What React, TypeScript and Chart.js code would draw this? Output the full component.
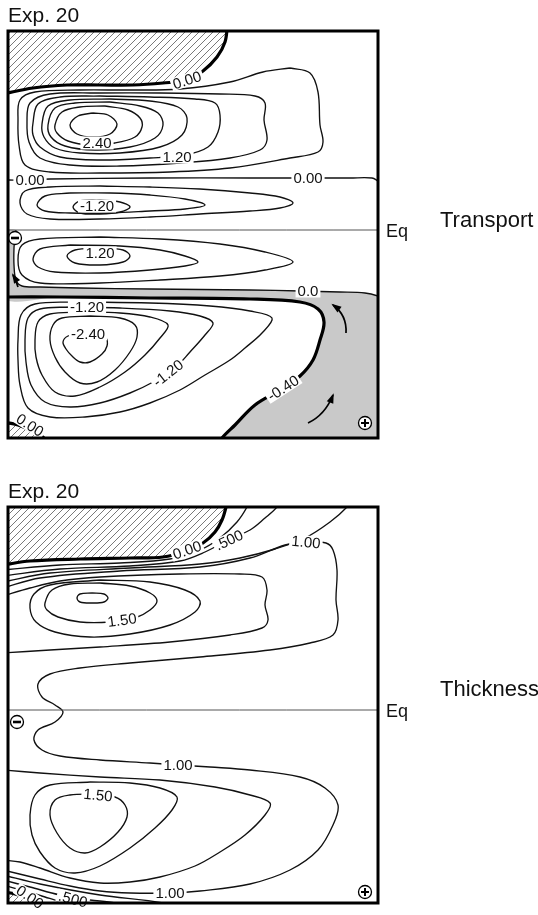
import React, { useEffect, useRef } from 'react';
import { Chart, registerables } from 'chart.js';

Chart.register(...registerables);

type P = [number, number];
type Lbl = [string, number, number, number];

// ---------- Panel 1: Transport (x = longitude 0..74, y = latitude) ----------
const T_ZERO_N: P[] = [[-1,13.6],[5,14.2],[11.8,14.5],[18.4,14.5],[25,14.5],[31,14.7],[35.8,15],[39,15.9],[41.8,17.3],[43.4,18.8],[43.9,20.5]];
const T_G04: P[] = [[2,11],[2.4,13],[5.4,13.8],[14.4,14],[24.4,14],[34.4,14.1],[44.4,14.8],[51,15.8],[56.4,16.2],[60.4,15.7],[62,13.8],[62.4,10.5],[63,8.8],[62,7.8],[56.4,7.2],[44.4,6.2],[32.4,5.8],[18.4,5.7],[8.4,5.8],[3.4,6.5],[2.2,8.5]];
const T_G08: P[] = [[3.8,10.8],[4.4,12.7],[8.4,13.6],[18.4,13.7],[30.4,13.7],[42.4,13.6],[49.4,13.4],[51.4,12.7],[51.2,11],[51.8,9],[50.4,8],[44.4,7.2],[34.4,6.7],[22.4,6.4],[12.4,6.5],[6.4,7.2],[4.2,8.8]];
const T_G12: P[] = [[5,10.7],[6,12.6],[10.4,13.3],[18.4,13.4],[28.4,13.3],[37.4,13.1],[41.4,12.7],[42.4,11.5],[42,9.8],[40,8.3],[35.4,7.5],[28.4,7.2],[18.4,7],[10.4,7.3],[6.4,8.3],[5,9.5]];
const T_G16: P[] = [[6.8,10.6],[8,12.4],[12.4,13],[20.4,13.1],[28.4,12.9],[34,12.3],[35.8,11.2],[34.8,9.5],[30.4,8.3],[22.4,7.7],[14.4,7.7],[9.4,8.2],[7.2,9.3]];
const T_G20: P[] = [[8,10.5],[9.4,12.2],[13.4,12.7],[20.4,12.8],[26.4,12.4],[30,11.7],[31,10.5],[29.4,9.2],[24.4,8.3],[17.4,8],[11.4,8.4],[8.6,9.3]];
const T_G24: P[] = [[9.4,10.5],[10.8,11.8],[14.4,12.3],[19.4,12.4],[24,12],[26.4,11.2],[26.8,10.3],[25.4,9.3],[21.4,8.7],[16.4,8.5],[12,8.9],[9.8,9.7]];
const T_G28: P[] = [[12.4,10.5],[14,11.4],[17,11.7],[20,11.5],[21.8,10.6],[20.4,9.6],[17,9.3],[13.8,9.6]];
const T_ZERO_MID: P[] = [[-1,5],[2.4,5],[8.4,5.1],[28.4,5.2],[48.4,5.2],[68.4,5.2],[72.8,5.2],[74,4.9],[75,4.6]];
const T_N04: P[] = [[2.4,2.7],[3.4,3.9],[8.4,4.3],[18.4,4.4],[28.4,4.3],[38.4,4.1],[48.4,3.7],[54.4,3.3],[57,2.7],[54.4,2.2],[48.4,1.9],[38.4,1.6],[28.4,1.3],[18.4,1.1],[8.4,1.1],[3.8,1.6]];
const T_N08: P[] = [[5.8,2.5],[7.4,3.4],[12.4,3.7],[20.4,3.7],[28.4,3.5],[35.4,3.1],[39.4,2.5],[35.4,2.1],[28.4,1.9],[20.4,1.7],[12.4,1.7],[7.4,1.9]];
const T_N12: P[] = [[13,2.3],[14.4,2.9],[18.4,3],[22.4,2.8],[24.4,2.3],[22.4,1.8],[18.4,1.6],[14.4,1.7]];
const T_S04: P[] = [[2,-3],[2.8,-1.5],[6.4,-0.9],[18.4,-0.7],[30.4,-0.9],[42.4,-1.4],[51.4,-2.2],[57,-3.2],[51.4,-4],[42.4,-4.6],[30.4,-5],[18.4,-5.3],[6.4,-5.3],[2.8,-4.5]];
const T_S08: P[] = [[5,-2.9],[6.4,-1.9],[12.4,-1.5],[22.4,-1.6],[30.4,-2],[35.4,-2.6],[38,-3.2],[35.4,-3.6],[28.4,-4],[18.4,-4.3],[9.4,-4.2],[6,-3.7]];
const T_S12: P[] = [[11.8,-2.6],[13.4,-2],[18.4,-1.8],[23,-2],[24.4,-2.6],[23,-3.2],[18.4,-3.5],[13.4,-3.3]];
const T_ZERO_S: P[] = [[75,-6.9],[74,-6.6],[71.4,-6.3],[66.4,-6.2],[58.4,-6.1],[48.4,-6],[28.4,-5.9],[14.4,-5.8],[6.4,-5.7],[2.8,-5.6],[1.6,-5],[1.2,-3.5],[1.2,-1.8],[1.4,-0.6],[1.6,0]];
const T_NEG040: P[] = [[-1,-6.7],[10.4,-6.7],[28.4,-6.8],[48.4,-6.9],[58.4,-7.2],[62,-7.9],[63.2,-9.2],[62.4,-11],[61,-13],[58.4,-14.6],[54.4,-16],[49.4,-17.5],[45.4,-19.5],[42.8,-20.8],[42.2,-21.5]];
const T_M08: P[] = [[2,-11],[2.6,-8.5],[5.4,-7.4],[14.4,-7.2],[28.4,-7.3],[40.4,-7.6],[48.4,-8.1],[52.8,-8.8],[50.8,-10.3],[47.4,-11.8],[44.4,-13],[39.4,-14.5],[34.4,-16],[28.4,-17.3],[22.4,-18.2],[15.4,-18.7],[8.4,-18.7],[4,-17.8],[2.4,-15.5],[2,-13]];
const T_M12: P[] = [[3.4,-11],[4,-8.8],[6.4,-7.9],[12.4,-7.7],[22.4,-7.8],[32.4,-8.1],[38.4,-8.6],[41,-9.3],[39.4,-10.5],[36.4,-12.2],[33.4,-13.8],[29.8,-15],[24.4,-16.3],[18.4,-17.3],[12.4,-17.7],[7.4,-17.2],[4.6,-15.5],[3.6,-13.2]];
const T_M16: P[] = [[5.4,-11],[6,-9.2],[8.4,-8.4],[14.4,-8.2],[22.4,-8.3],[28.4,-8.7],[32,-9.5],[30.4,-10.8],[27.4,-12.5],[23.4,-14.2],[18.4,-15.7],[13.4,-16.6],[9.4,-16.2],[6.8,-14.5],[5.6,-12.7]];
const T_M20: P[] = [[8.4,-11],[9,-9.5],[10.8,-8.8],[16.4,-8.6],[22.4,-8.8],[25.4,-9.5],[25.8,-10.7],[24.4,-12.2],[21.4,-14],[17.8,-15.2],[14.4,-15.3],[11.4,-14.2],[9.4,-12.7]];
const T_M24: P[] = [[11,-11.2],[12,-10.6],[14.4,-10.4],[18,-10.4],[19.6,-10.8],[19.8,-11.6],[18.8,-12.4],[16.4,-13.2],[14.4,-13.2],[12.8,-12.6],[11.6,-11.9]];
const T_ZERO_SW: P[] = [[-1,-19.2],[2,-19.5],[4.4,-20],[6.4,-20.5],[7.6,-21],[8,-21.5]];
const T_LABELS: Lbl[] = [
  ['0.00',35.8,15,-18],['2.40',17.8,8.7,0],['1.20',33.8,7.3,0],['0.00',4.4,5,0],['0.00',60,5.2,0],
  ['-1.20',17.8,2.4,0],['1.20',18.4,-2.3,0],['0.0',60,-6.1,0],['-1.20',15.8,-7.7,0],['-2.40',16,-10.4,0],
  ['-1.20',32,-14.3,-38],['-0.40',55,-15.8,-33],['0.00',4.4,-19.5,33],
];
const T_ARROWS: P[][] = [
  [[2,-5.7],[1.6,-5],[1,-4.5]],
  [[67.6,-10.3],[67.8,-8.5],[65,-7.5]],
  [[60,-19.3],[63.4,-18.5],[65,-16.5]],
];

// ---------- Panel 2: Thickness ----------
const H_ZERO_N: P[] = [[-1,14.5],[4.4,14.9],[14.4,15.1],[24.4,15.2],[31,15.3],[35.6,15.9],[39,16.7],[41.4,17.8],[42.8,19],[43.6,20.3],[43.8,21]];
const H_F25: P[] = [[-1,14],[10.4,14.5],[22.4,14.7],[32.4,15.1],[38.4,16],[42.4,17.2],[45.8,18.8],[47.8,20.3],[48.2,21]];
const H_F50: P[] = [[-1,13.4],[10.4,14.1],[24.4,14.4],[34.4,14.9],[39.4,15.8],[44,17],[48.4,18],[51.4,19.2],[53.8,20.3],[54.4,21]];
const H_F75: P[] = [[-1,12.8],[8.4,13.7],[24.4,14.2],[38.4,14.6],[46.4,15.2],[53.4,16.1],[59.4,17.2],[64.4,18.8],[67.8,20.3],[68.5,21]];
const H_C100: P[] = [[-1,12.2],[6.4,13.2],[22.4,13.9],[38.4,14.3],[48.4,15.2],[55.4,16.5],[59.6,16.8],[63.6,16.7],[65,16],[65.8,14],[65.6,11],[66,9],[65,7.5],[60.4,6.7],[52.4,6],[38.4,5.3],[24.4,4.7],[14.4,4.2],[8.4,3.6],[6,2.6],[6.8,1.3],[9.4,0.5],[11,-0.2],[9.4,-1.2],[6,-2],[5.2,-3],[6.8,-4],[10.4,-4.6],[18.4,-5],[28.4,-5.3],[34,-5.5],[40.4,-5.7],[48.4,-6],[58.4,-6.7],[63.4,-7.8],[66,-9.5],[65,-11.5],[62,-14],[56.4,-16],[48.4,-17.4],[38.4,-18.1],[32.4,-18.3],[24.4,-18.3],[18.4,-18.1],[12.4,-17.6],[6.4,-16.9],[-1,-16]];
const H_CMID: P[] = [[-1,11.4],[4.4,12.2],[10.4,12.9],[18.4,13.3],[34.4,13.6],[46.4,13.6],[50.8,13.3],[51.8,12],[51.4,10.5],[52,9],[50.8,8.2],[44.4,7.5],[32.4,6.8],[18.4,6.3],[8.4,6],[-1,5.7]];
const H_C125: P[] = [[4.4,10.2],[5.2,11.6],[8.4,12.5],[18.4,13],[28.4,12.8],[35.4,12],[38.4,10.9],[37.4,9.8],[32.4,8.5],[24.4,7.6],[16.4,7.3],[9.4,7.8],[5.6,8.8]];
const H_C150: P[] = [[7.4,10.7],[8.8,12],[12.4,12.6],[18.4,12.7],[24.4,12.4],[28.4,11.7],[29.8,10.9],[28.4,10],[25.4,9.2],[20.4,8.8],[14.4,8.8],[10,9.3],[7.8,10]];
const H_C175: P[] = [[13.8,11.2],[14.4,11.6],[16.8,11.7],[19.2,11.6],[20,11.2],[19.2,10.8],[16.8,10.7],[14.4,10.8]];
const H_S150: P[] = [[8.4,-10.5],[9.4,-9],[12.4,-8.5],[17.4,-8.4],[21.4,-8.7],[23.4,-9.5],[23.8,-10.7],[22,-12.2],[18.4,-13.7],[15.4,-14.3],[12.4,-13.8],[9.8,-12.3]];
const H_S125: P[] = [[4.4,-10.5],[5.4,-8.5],[8.4,-7.5],[16.4,-7.2],[24.4,-7.3],[30.4,-7.8],[33.8,-8.7],[32.8,-10],[29.4,-11.8],[24.4,-13.8],[18.4,-15.6],[13.4,-16.3],[9.4,-15.8],[6.4,-14.2],[4.8,-12.5]];
const H_S3: P[] = [[-1,-6],[6.4,-6.3],[18.4,-6.7],[30.4,-7],[41.4,-7.7],[48.4,-8.5],[52.4,-9.3],[51.4,-10.5],[47.4,-12.5],[42.4,-14.2],[37.4,-15.6],[30.4,-16.7],[24.4,-17.2],[18.4,-17.3],[12.4,-16.8],[6.4,-15.8],[2.4,-15.2],[-1,-15]];
const H_F75B: P[] = [[-1,-16.5],[6.4,-17.4],[18.4,-18.5],[31,-19.3],[32,-19.8]];
const H_F50B: P[] = [[-1,-17],[4.4,-17.7],[10.4,-18.5],[16.4,-19],[21.4,-19.3],[22.5,-19.8]];
const H_F25B: P[] = [[-1,-17.5],[3.4,-18.1],[7.4,-18.7],[10.8,-19.3],[11.5,-19.8]];
const H_ZERO_S: P[] = [[-1,-18.2],[1.4,-18.4],[4.4,-18.9],[6.4,-19.3],[6.8,-19.8]];
const H_LABELS: Lbl[] = [
  ['0.00',35.8,16,-20],['.500',44.2,17,-25],['1.00',59.6,16.8,5],['1.50',22.8,9,-8],
  ['1.00',34,-5.5,0],['1.50',18,-8.5,5],['1.00',32.4,-18.3,0],['.500',13,-18.9,15],['0.00',4.4,-18.7,35],
];

const FONT = "'Liberation Sans', Arial, Helvetica, sans-serif";

interface Spec {
  title: string; side: string; sideDy: number;
  yMin: number; yMax: number; padTop: number; padBottom: number; height: number;
  hatch: P[][]; shade: P[][]; thin: P[][]; closed: P[][]; thick: P[][];
  labels: Lbl[]; arrows: P[][]; minus: P; plus: P;
}

function loop(pts: P[]): P[] {
  let k = 0;
  pts.forEach((p, i) => { if (p[1] > pts[k][1]) k = i; });
  const r = pts.slice(k).concat(pts.slice(0, k));
  return r.concat([r[0]]);
}
const xy = (pts: P[]) => pts.map(([x, y]) => ({ x, y }));

const SPEC1: Spec = {
  title: 'Exp. 20', side: 'Transport', sideDy: -9,
  yMin: -20.8, yMax: 19.9, padTop: 31, padBottom: 22, height: 460,
  hatch: [
    [...T_ZERO_N, [43.9, 21.5], [-1, 21.5], T_ZERO_N[0]],
    [...T_ZERO_SW, [-1, -21.5], T_ZERO_SW[0]],
  ],
  shade: [
    [[-1, 0], ...T_ZERO_S.slice().reverse(), [76, -7], [76, -22], [42, -22], ...T_NEG040.slice().reverse(), [-1, 0]],
  ],
  thin: [T_ZERO_MID, T_ZERO_S],
  closed: [T_G04, T_G08, T_G12, T_G16, T_G20, T_G24, T_G28, T_N04, T_N08, T_N12, T_S04, T_S08, T_S12, T_M08, T_M12, T_M16, T_M20, T_M24],
  thick: [T_ZERO_N, T_NEG040, T_ZERO_SW],
  labels: T_LABELS, arrows: T_ARROWS, minus: [1.4, -0.8], plus: [71.4, -19.3],
};

const SPEC2: Spec = {
  title: 'Exp. 20', side: 'Thickness', sideDy: -20,
  yMin: -19.3, yMax: 20.3, padTop: 47, padBottom: 12, height: 455,
  hatch: [
    [...H_ZERO_N, [43.8, 21.5], [-1, 21.5], H_ZERO_N[0]],
    [...H_ZERO_S, [-1, -19.8], H_ZERO_S[0]],
  ],
  shade: [],
  thin: [H_F25, H_F50, H_F75, H_C100, H_CMID, H_S3, H_F75B, H_F50B, H_F25B],
  closed: [H_C125, H_C150, H_C175, H_S150, H_S125],
  thick: [H_ZERO_N, H_ZERO_S],
  labels: H_LABELS, arrows: [], minus: [1.8, -1.2], plus: [71.4, -18.2],
};

function Panel({ spec, top }: { spec: Spec; top: number }) {
  const ref = useRef<HTMLCanvasElement>(null);
  useEffect(() => {
    const canvas = ref.current!;
    const ctx = canvas.getContext('2d')!;
    const tile = document.createElement('canvas');
    tile.width = 7; tile.height = 7;
    const tc = tile.getContext('2d')!;
    tc.strokeStyle = '#6a6a6a'; tc.lineWidth = 0.9;
    tc.beginPath();
    tc.moveTo(-1, 8); tc.lineTo(8, -1);
    tc.moveTo(-1, 1); tc.lineTo(1, -1);
    tc.moveTo(6, 8); tc.lineTo(8, 6);
    tc.stroke();
    const pattern = ctx.createPattern(tile, 'repeat')!;

    const datasets: any[] = [];
    const fillDs = (pts: P[], bg: any) => ({
      data: xy(pts), borderWidth: 0, borderColor: 'rgba(0,0,0,0)', backgroundColor: bg,
      fill: 'shape', pointRadius: 0, tension: 0.35, order: 5,
    });
    const lineDs = (pts: P[], w: number, color = '#111') => ({
      data: xy(pts), borderWidth: w, borderColor: color, fill: false, pointRadius: 0, tension: 0.35, order: 1,
    });
    spec.shade.forEach((p) => datasets.push(fillDs(p, '#c9c9c9')));
    spec.hatch.forEach((p) => datasets.push(fillDs(p, pattern)));
    datasets.push(lineDs([[-1, 0], [75, 0]], 1, '#555'));
    spec.thin.forEach((p) => datasets.push(lineDs(p, 1.35)));
    spec.closed.forEach((p) => datasets.push(lineDs(loop(p), 1.35)));
    spec.thick.forEach((p) => datasets.push(lineDs(p, 3.2, '#000')));

    const decor = {
      id: 'decor',
      afterDatasetsDraw(chart: any) {
        const { ctx: c, chartArea: a, scales } = chart;
        const X = (v: number) => scales.x.getPixelForValue(v);
        const Y = (v: number) => scales.y.getPixelForValue(v);
        c.save();
        // contour labels
        c.font = `15px ${FONT}`;
        c.textAlign = 'center';
        c.textBaseline = 'middle';
        spec.labels.forEach(([t, lx, ly, r]) => {
          c.save();
          c.translate(X(lx), Y(ly));
          c.rotate((r * Math.PI) / 180);
          const w = c.measureText(t).width + 4;
          c.fillStyle = '#fff';
          c.fillRect(-w / 2, -6.5, w, 13);
          c.fillStyle = '#111';
          c.fillText(t, 0, 1);
          c.restore();
        });
        // arrows
        c.strokeStyle = '#000'; c.fillStyle = '#000'; c.lineWidth = 1.7;
        spec.arrows.forEach(([t, m, h]) => {
          const tx = X(t[0]), ty = Y(t[1]), mx = X(m[0]), my = Y(m[1]), hx = X(h[0]), hy = Y(h[1]);
          c.beginPath(); c.moveTo(tx, ty); c.quadraticCurveTo(mx, my, hx, hy); c.stroke();
          const ang = Math.atan2(hy - my, hx - mx);
          const L = 8, W = 3.5;
          c.beginPath();
          c.moveTo(hx + Math.cos(ang) * 2, hy + Math.sin(ang) * 2);
          c.lineTo(hx - Math.cos(ang) * L + Math.sin(ang) * W, hy - Math.sin(ang) * L - Math.cos(ang) * W);
          c.lineTo(hx - Math.cos(ang) * L - Math.sin(ang) * W, hy - Math.sin(ang) * L + Math.cos(ang) * W);
          c.closePath(); c.fill();
        });
        // sign symbols
        const sym = (p: P, plus: boolean) => {
          const sx = X(p[0]), sy = Y(p[1]);
          c.beginPath(); c.arc(sx, sy, 6.5, 0, Math.PI * 2);
          c.fillStyle = '#fff'; c.fill();
          c.lineWidth = 1.3; c.strokeStyle = '#000'; c.stroke();
          c.lineWidth = plus ? 2 : 2.6;
          c.beginPath(); c.moveTo(sx - 4, sy); c.lineTo(sx + 4, sy);
          if (plus) { c.moveTo(sx, sy - 4); c.lineTo(sx, sy + 4); }
          c.stroke();
        };
        sym(spec.minus, false);
        sym(spec.plus, true);
        // frame
        c.lineWidth = 3; c.strokeStyle = '#000';
        c.strokeRect(a.left, a.top, a.right - a.left, a.bottom - a.top);
        // texts
        c.fillStyle = '#111';
        c.textAlign = 'left';
        c.textBaseline = 'alphabetic';
        c.font = `21px ${FONT}`;
        c.fillText(spec.title, a.left, a.top - 9);
        const eq = Y(0);
        c.textBaseline = 'middle';
        c.font = `18px ${FONT}`;
        c.fillText('Eq', a.right + 8, eq + 2);
        c.font = `22px ${FONT}`;
        c.fillText(spec.side, a.right + 62, eq + spec.sideDy);
        c.restore();
      },
    };

    const chart = new Chart(ctx, {
      type: 'line',
      data: { datasets },
      options: {
        responsive: false,
        animation: false,
        devicePixelRatio: 1,
        events: [],
        layout: { padding: { left: 8, right: 160, top: spec.padTop, bottom: spec.padBottom } },
        scales: {
          x: { type: 'linear', min: 0, max: 74, display: false },
          y: { type: 'linear', min: spec.yMin, max: spec.yMax, display: false },
        },
        plugins: { legend: { display: false }, tooltip: { enabled: false } },
        elements: { point: { radius: 0 } },
      } as any,
      plugins: [decor],
    });
    return () => chart.destroy();
  }, [spec]);
  return (
    <canvas
      ref={ref}
      width={538}
      height={spec.height}
      style={{ position: 'absolute', left: 0, top, width: 538, height: spec.height, display: 'block' }}
    />
  );
}

export default function App() {
  return (
    <div style={{ position: 'absolute', left: 0, top: 0, width: 538, height: 915, background: '#fff', overflow: 'hidden' }}>
      <Panel spec={SPEC1} top={0} />
      <Panel spec={SPEC2} top={460} />
    </div>
  );
}
